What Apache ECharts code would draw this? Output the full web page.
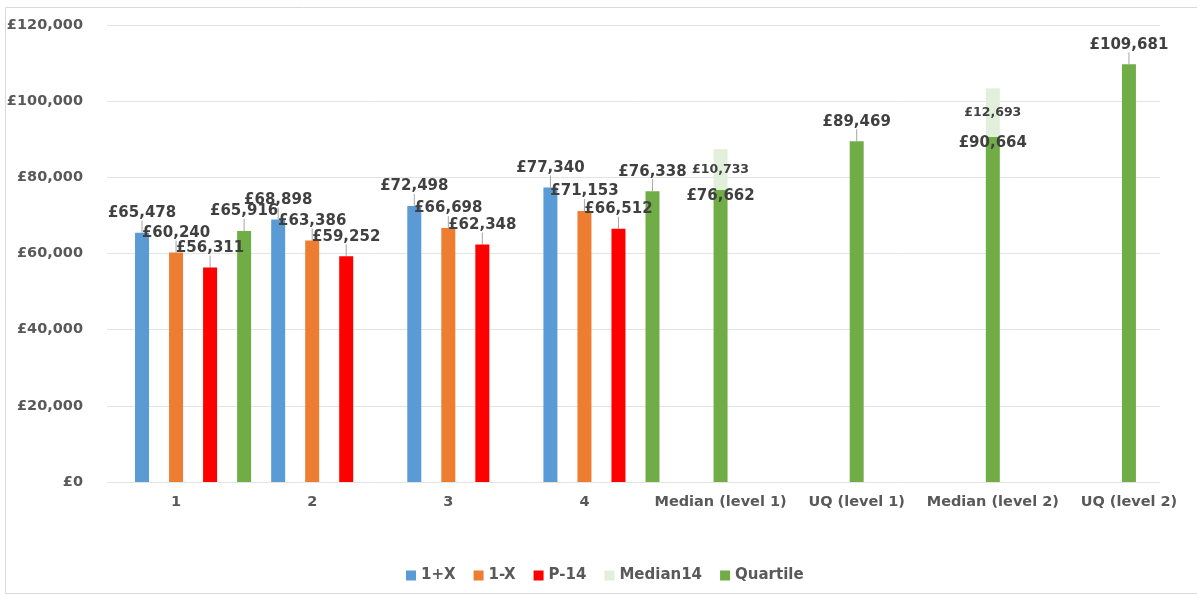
<!DOCTYPE html>
<html>
<head>
<meta charset="utf-8">
<script src="https://cdn.jsdelivr.net/npm/echarts@6/dist/echarts.min.js"></script>
<style>
  html, body { margin: 0; padding: 0; background: #fff; }
  #chart { width: 1197px; height: 595px; }
</style>
</head>
<body>
<div id="chart"></div>
<script>
// categories along the bottom
const categories = ['1', '2', '3', '4', 'Median (level 1)', 'UQ (level 1)', 'Median (level 2)', 'UQ (level 2)'];

// clustered series, one value per category
const plusX = [65478, 68898, 72498, 77340, '-', '-', '-', '-'];
const minusX = [60240, 63386, 66698, 71153, '-', '-', '-', '-'];
const p14 = [56311, 59252, 62348, 66512, '-', '-', '-', '-'];

// green stack sits on a half-step axis: slot 2k+1 is category k, even slots are the gaps between
const quartile = ['-', '-', 65916, '-', '-', '-', '-', '-', 76338, 76662, '-', 89469, '-', 90664, '-', 109681, '-'];
const median14 = ['-', '-', '-', '-', '-', '-', '-', '-', '-', 10733, '-', '-', '-', 12693, '-', '-', '-'];

const yTicks = [0, 20000, 40000, 60000, 80000, 100000, 120000];

const halfSteps = quartile.map((v, j) => 'h' + j);

const money = v => '£' + String(v).replace(/\B(?=(\d{3})+(?!\d))/g, ',');

const font = 'DejaVu Sans';
const labelStyle = {
  show: true,
  position: 'top',
  distance: 3,
  color: '#404040',
  fontFamily: font,
  fontWeight: 'bold',
  fontSize: 15,
  formatter: p => money(p.value)
};
const leader = { show: true, lineStyle: { color: '#a6a6a6', width: 1 } };

function clustered(name, data, color) {
  return {
    name: name,
    type: 'bar',
    xAxisIndex: 1,
    yAxisIndex: 1,
    data: data,
    barWidth: 14,
    barGap: '143%',
    itemStyle: { color: color },
    label: labelStyle,
    labelLine: leader,
    labelLayout: { dy: -9 }
  };
}

const chart = echarts.init(document.getElementById('chart'));

chart.setOption({
  animation: false,
  textStyle: { fontFamily: font },
  graphic: [{
    type: 'rect',
    silent: true,
    z: -10,
    shape: { x: 5.5, y: 7.5, width: 1200, height: 586 },
    style: { fill: 'none', stroke: '#d9d9d9', lineWidth: 1 }
  }],
  legend: {
    left: 401,
    top: 563,
    itemWidth: 10,
    itemHeight: 10,
    itemGap: 18,
    icon: 'rect',
    data: ['1+X', '1-X', 'P-14', 'Median14', 'Quartile'],
    textStyle: { color: '#595959', fontFamily: font, fontWeight: 'bold', fontSize: 15 }
  },
  grid: [
    // background grid for the value gridlines
    { left: 107, width: 1053, top: 25, height: 457 },
    // bar grid, wider than the picture on the right like the original
    { left: 108, width: 1109, top: 25, height: 457 }
  ],
  xAxis: [
    { gridIndex: 0, type: 'category', data: categories, show: false },
    {
      gridIndex: 1,
      type: 'category',
      data: categories,
      axisLine: { show: false },
      axisTick: { show: false },
      axisLabel: {
        interval: 0,
        margin: 13,
        color: '#595959',
        fontFamily: font,
        fontWeight: 'bold',
        fontSize: 14.5
      }
    },
    { gridIndex: 1, type: 'category', data: halfSteps, boundaryGap: false, show: false }
  ],
  yAxis: [
    {
      gridIndex: 0,
      type: 'value',
      min: yTicks[0],
      max: yTicks[yTicks.length - 1],
      interval: yTicks[1] - yTicks[0],
      axisLine: { show: false },
      axisTick: { show: false },
      splitLine: { lineStyle: { color: '#e3e3e3', width: 1 } },
      axisLabel: {
        margin: 24,
        color: '#595959',
        fontFamily: font,
        fontWeight: 'bold',
        fontSize: 14.5,
        formatter: v => money(v)
      }
    },
    {
      gridIndex: 1,
      type: 'value',
      min: yTicks[0],
      max: yTicks[yTicks.length - 1],
      interval: yTicks[1] - yTicks[0],
      show: false,
      splitLine: { show: false }
    }
  ],
  series: [
    clustered('1+X', plusX, '#5b9bd5'),
    clustered('1-X', minusX, '#ed7d31'),
    clustered('P-14', p14, '#ff0000'),
    {
      name: 'Quartile',
      type: 'bar',
      xAxisIndex: 2,
      yAxisIndex: 1,
      stack: 'green',
      barWidth: 14,
      itemStyle: { color: '#70ad47' },
      data: quartile.map((v, j) => {
        if (v === '-' || median14[j] === '-') return v;
        // when a Median14 block sits on top, the label rides on the join
        return {
          value: v,
          label: { position: ['50%', 6], align: 'center', verticalAlign: 'middle' },
          labelLine: { show: false }
        };
      }),
      label: labelStyle,
      labelLine: leader,
      labelLayout: p => (median14[p.dataIndex] === '-' ? { dy: -9 } : {})
    },
    {
      name: 'Median14',
      type: 'bar',
      xAxisIndex: 2,
      yAxisIndex: 1,
      stack: 'green',
      barWidth: 14,
      itemStyle: { color: '#e2efda' },
      data: median14,
      label: {
        show: true,
        position: 'inside',
        color: '#404040',
        fontFamily: font,
        fontWeight: 'bold',
        fontSize: 12.5,
        formatter: p => money(p.value)
      }
    }
  ]
});
</script>
</body>
</html>
